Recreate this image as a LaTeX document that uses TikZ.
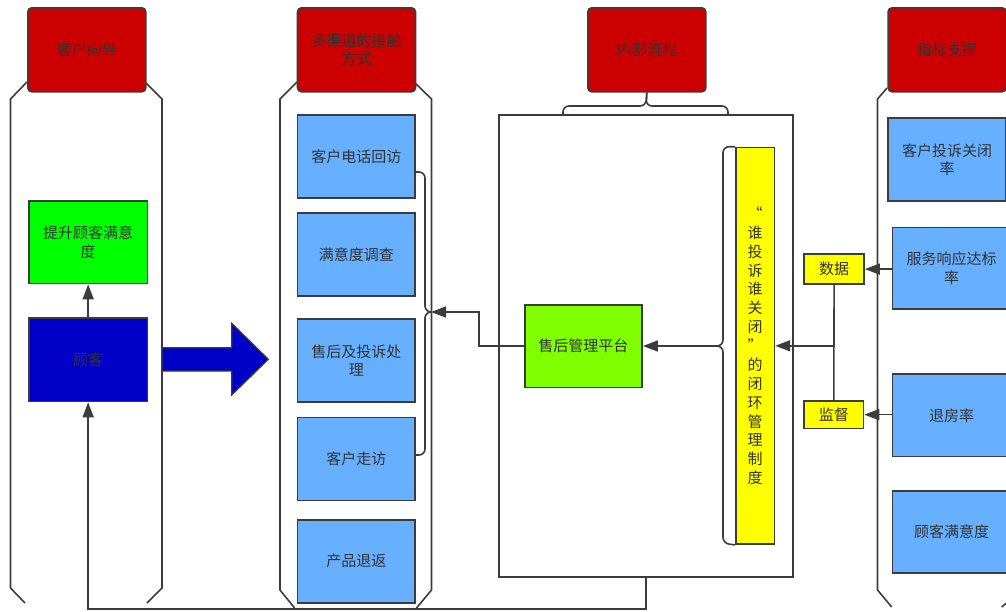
\documentclass[tikz,border=0pt]{standalone}
\usepackage{fontspec}
\newfontfamily\cjk{Noto Sans CJK SC}
\usetikzlibrary{arrows.meta}
\definecolor{hred}{HTML}{CC0000}
\definecolor{bblue}{HTML}{66B0FF}
\definecolor{dblue}{HTML}{0000C8}
\definecolor{bgreen}{HTML}{00FF00}
\definecolor{lgreen}{HTML}{80FF00}
\definecolor{yel}{HTML}{FFFF00}
\definecolor{lc}{HTML}{3C3C3C}
\definecolor{txt}{HTML}{333333}
\tikzset{
  base/.style={draw=lc, line width=1.6pt, inner sep=0pt, anchor=north west, align=center,
    font=\cjk\fontsize{15pt}{18.5pt}\selectfont, text=txt},
  hdr/.style={base, fill=hred, rounded corners=4pt, minimum width=118pt, minimum height=84pt},
  bbox/.style={base, fill=bblue, minimum height=83pt},
  frame/.style={draw=lc, line width=1.6pt},
  conn/.style={draw=lc, line width=1.6pt},
  arr/.style={-{Triangle[length=15pt,width=11pt]}},
  brace/.style={draw=lc, line width=1.6pt, rounded corners=6pt},
}
\begin{document}
\begin{tikzpicture}[x=1pt,y=-1pt]
\useasboundingbox (0,0) rectangle (1006,611);
\begin{scope}
\clip (0,0) rectangle (1006,611);
% column frames
\draw[frame] (27,82) -- (10.5,99) -- (10.5,588) -- (25,603);
\draw[frame] (145,82) -- (162,99) -- (162,588) -- (147,603);
\draw[frame] (297,82) -- (280,99) -- (280,590) -- (294.6,608);
\draw[frame] (414,82) -- (431.5,99) -- (431.5,590) -- (416.5,608);
\draw[frame] (887,88) -- (877.5,99) -- (877.5,590) -- (891.7,607);
\draw[frame] (1016,595) -- (1001.7,607);

% headers
\node[hdr] (h1) at (27,7) {客户向导};
\node[hdr] (h2) at (296.7,7) {多渠道的接触\\方式};
\node[hdr] (h3) at (587,7) {内部流程};
\node[hdr] (h4) at (887.3,7) {指标支撑};

% column 1
\node[base, fill=bgreen, minimum width=118.7pt, minimum height=82.7pt] (goal) at (28,200) {提升顾客满意\\度};
\node[base, fill=dblue, minimum width=118.7pt, minimum height=83.7pt] (cust) at (28,317) {顾客};
\draw[conn,arr] (cust.north) -- (goal.south);

% big arrow
\draw[draw=lc, line width=1.2pt, fill=dblue] (162,347.7) -- (231.7,347.7) -- (231.7,323.3) -- (268.3,359.3)
  -- (231.7,395) -- (231.7,371) -- (162,371) -- cycle;

% column 2
\node[bbox, minimum width=117.5pt] (c1) at (296.7,114) {客户电话回访};
\node[bbox, minimum width=117.5pt] (c2) at (296.7,212) {满意度调查};
\node[bbox, minimum width=117.5pt] (c3) at (296.7,318) {售后及投诉处\\理};
\node[bbox, minimum width=117.5pt] (c4) at (296.7,416.5) {客户走访};
\node[bbox, minimum width=117.5pt] (c5) at (296.7,519) {产品退返};
\coordinate (ltip) at (431,312);
\draw[brace] (414.2,172) -- (425,172) -- (425,312) -- (ltip);
\draw[brace] (ltip) -- (425,312) -- (425,455) -- (414.2,455);

% column 3
\node[base, minimum width=294pt, minimum height=462pt] (inner) at (498.3,114) {};
\draw[brace] (563,114) -- (563,106) -- (646,106) -- (h3.south);
\draw[brace] (h3.south) -- (646,106) -- (728,106) -- (728,114);
\node[base, fill=lgreen, minimum width=117.3pt, minimum height=82.7pt] (plat) at (524,304) {售后管理平台};
\node[base, fill=yel, minimum width=38.6pt, minimum height=396.6pt,
  font=\cjk\fontsize{15pt}{18.86pt}\selectfont] (ybar) at (735,146.7)
  {“\\谁\\投\\诉\\谁\\关\\闭\\”\\的\\闭\\环\\管\\理\\制\\度};
\coordinate (rtip) at (714,346);
\draw[brace] (ybar.north west) -- (723,146.7) -- (723,346) -- (rtip);
\draw[brace] (rtip) -- (723,346) -- (723,543.3) -- (ybar.south west);
\draw[conn,arr] (rtip) -- (plat.east |- rtip);
\draw[conn,arr] (plat.west |- rtip) -- (479,346) -- (479,312) -- (ltip);

% bottom return connector
\coordinate (botline) at (0,609);
\draw[conn,arr] (inner.south) -- (inner.south |- botline) -| (cust.south);

% column 4
\node[bbox, minimum width=118pt] (k1) at (887.3,117.3) {客户投诉关闭\\率};
\node[bbox, minimum width=118pt, minimum height=81.6pt] (k2) at (891.7,226.7) {服务响应达标\\率};
\node[bbox, minimum width=118pt, minimum height=82.4pt] (k3) at (891.7,373.3) {退房率};
\node[bbox, minimum width=118pt, minimum height=82.3pt] (k4) at (891.7,490) {顾客满意度};

\node[base, fill=yel, minimum width=60pt, minimum height=30pt] (sj) at (803.3,253.3) {数据};
\node[base, fill=yel, minimum width=59.4pt, minimum height=27.7pt] (jd) at (803.3,400) {监督};
\draw[conn,arr] (k2.west |- sj.east) -- (sj.east);
\draw[conn,arr] (k3.west |- jd.east) -- (jd.east);
\draw[conn] (sj.south) -- (jd.north);
\draw[conn,arr] (sj.south |- ybar.east) -- (ybar.east);
\end{scope}
\end{tikzpicture}
\end{document}
